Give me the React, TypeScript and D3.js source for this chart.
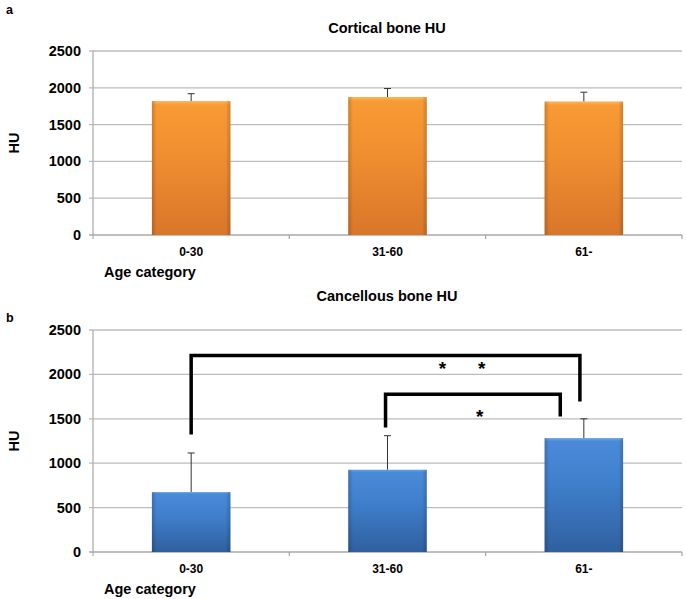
import React, { useRef, useEffect } from 'react';
import * as d3 from 'd3';

const categories = ['0-30', '31-60', '61-'];
const yTicks = [0, 500, 1000, 1500, 2000, 2500];

const corticalMeans = [1820, 1875, 1815];
const corticalErr = [100, 115, 125];

const cancellousMeans = [675, 927, 1283];
const cancellousErr = [440, 383, 217];

// significance brackets (x in category index units, y in HU)
const bracketX1 = [0, 0.99];
const bracketX2 = [1.98, 1.88];
const bracketTop = [2212, 1776];
const bracketLeftEnd = [1324, 1403];
const bracketRightEnd = [1694, 1526];

const starX = [1.28, 1.48, 1.47];
const starY = [2090, 2090, 1551];

const FONT = '"Liberation Sans", Arial, sans-serif';

interface PanelOpts {
  letter: string;
  title: string;
  means: number[];
  errs: number[];
  top: number;      // y of 2500
  bottom: number;   // y of 0
  titleY: number;
  letterY: number;
  grad: string;
  withBrackets: boolean;
}

const App: React.FC = () => {
  const ref = useRef<SVGSVGElement | null>(null);

  useEffect(() => {
    if (!ref.current) return;
    const svg = d3.select(ref.current);
    svg.selectAll('*').remove();

    const defs = svg.append('defs');
    const mkGrad = (id: string, stops: [string, string][]) => {
      const g = defs.append('linearGradient').attr('id', id)
        .attr('x1', 0).attr('y1', 0).attr('x2', 0).attr('y2', 1);
      stops.forEach(([o, c]) => g.append('stop').attr('offset', o).attr('stop-color', c));
    };
    mkGrad('orange', [['0%', '#fdb55a'], ['3%', '#f89a35'], ['40%', '#f08f30'], ['100%', '#d9762a']]);
    mkGrad('blue', [['0%', '#6aa6ea'], ['3%', '#4a8ad8'], ['40%', '#3f7fcc'], ['100%', '#2f609f']]);
    const side = defs.append('linearGradient').attr('id', 'side')
      .attr('x1', 0).attr('y1', 0).attr('x2', 1).attr('y2', 0);
    side.append('stop').attr('offset', '0%').attr('stop-color', '#000').attr('stop-opacity', 0.18);
    side.append('stop').attr('offset', '6%').attr('stop-color', '#000').attr('stop-opacity', 0);
    side.append('stop').attr('offset', '94%').attr('stop-color', '#000').attr('stop-opacity', 0);
    side.append('stop').attr('offset', '100%').attr('stop-color', '#000').attr('stop-opacity', 0.18);

    const left = 93;
    const right = 682;

    const x = d3.scaleBand<string>().domain(categories).range([left, right]).paddingInner(0).paddingOuter(0);
    const bw = x.bandwidth() / 2.5;
    const xc = d3.scaleLinear().domain([0, 1]).range([left + x.bandwidth() / 2, left + x.bandwidth() * 1.5]);

    const drawPanel = (o: PanelOpts) => {
      const y = d3.scaleLinear().domain([0, 2500]).range([o.bottom, o.top]);
      const g = svg.append('g');

      g.append('text').attr('x', 6).attr('y', o.letterY).text(o.letter)
        .attr('font-family', FONT).attr('font-weight', 'bold').attr('font-size', 12.5);
      g.append('text').attr('x', 387).attr('y', o.titleY).attr('text-anchor', 'middle').text(o.title)
        .attr('font-family', FONT).attr('font-weight', 'bold').attr('font-size', 14.5);

      // gridlines
      g.selectAll('.grid').data(yTicks.filter(t => t > 0)).enter().append('line')
        .attr('x1', left - 4).attr('x2', right).attr('y1', d => y(d)).attr('y2', d => y(d))
        .attr('stroke', '#bcbcbc').attr('stroke-width', 1.3);
      g.selectAll('.ylab').data(yTicks).enter().append('text')
        .attr('x', left - 12).attr('y', d => y(d) + 5).attr('text-anchor', 'end').text(d => d)
        .attr('font-family', FONT).attr('font-weight', 'bold').attr('font-size', 14.5);

      // axes
      g.append('line').attr('x1', left).attr('x2', left).attr('y1', o.top).attr('y2', o.bottom + 4)
        .attr('stroke', '#b0b0b0').attr('stroke-width', 1.3);
      g.append('line').attr('x1', left - 4).attr('x2', right).attr('y1', o.bottom).attr('y2', o.bottom)
        .attr('stroke', '#a8a8a8').attr('stroke-width', 1.3);
      g.selectAll('.xt').data(categories).enter().append('line')
        .attr('x1', d => (x(d) as number) + x.bandwidth()).attr('x2', d => (x(d) as number) + x.bandwidth())
        .attr('y1', o.bottom).attr('y2', o.bottom + 4).attr('stroke', '#a8a8a8').attr('stroke-width', 1.3);

      // bars
      const cx = (c: string) => (x(c) as number) + x.bandwidth() / 2;
      const bars = g.selectAll('.bar').data(categories).enter();
      bars.append('rect')
        .attr('x', d => cx(d) - bw / 2).attr('width', bw)
        .attr('y', (d, i) => y(o.means[i])).attr('height', (d, i) => o.bottom - y(o.means[i]))
        .attr('fill', `url(#${o.grad})`);
      bars.append('rect')
        .attr('x', d => cx(d) - bw / 2).attr('width', bw)
        .attr('y', (d, i) => y(o.means[i])).attr('height', (d, i) => o.bottom - y(o.means[i]))
        .attr('fill', 'url(#side)');

      // error bars (upper only)
      categories.forEach((c, i) => {
        const x0 = cx(c);
        const y1 = y(o.means[i]);
        const y2 = y(o.means[i] + o.errs[i]);
        g.append('line').attr('x1', x0).attr('x2', x0).attr('y1', y1).attr('y2', y2)
          .attr('stroke', '#333').attr('stroke-width', 1);
        g.append('line').attr('x1', x0 - 3.5).attr('x2', x0 + 3.5).attr('y1', y2).attr('y2', y2)
          .attr('stroke', '#333').attr('stroke-width', 1);
      });

      g.selectAll('.xlab').data(categories).enter().append('text')
        .attr('x', d => cx(d)).attr('y', o.bottom + 21).attr('text-anchor', 'middle').text(d => d)
        .attr('font-family', FONT).attr('font-weight', 'bold').attr('font-size', 12);

      g.append('text').attr('x', 104).attr('y', o.bottom + 42).text('Age category')
        .attr('font-family', FONT).attr('font-weight', 'bold').attr('font-size', 14.5);

      g.append('text')
        .attr('transform', `translate(19, ${(o.top + o.bottom) / 2}) rotate(-90)`)
        .attr('text-anchor', 'middle').text('HU')
        .attr('font-family', FONT).attr('font-weight', 'bold').attr('font-size', 14.5);

      if (o.withBrackets) {
        bracketX1.forEach((bx, i) => {
          const path = d3.path();
          path.moveTo(xc(bx), y(bracketLeftEnd[i]));
          path.lineTo(xc(bx), y(bracketTop[i]));
          path.lineTo(xc(bracketX2[i]), y(bracketTop[i]));
          path.lineTo(xc(bracketX2[i]), y(bracketRightEnd[i]));
          g.append('path').attr('d', path.toString()).attr('fill', 'none')
            .attr('stroke', '#000').attr('stroke-width', 3.5).attr('stroke-linejoin', 'miter');
        });
        starX.forEach((sx, i) => {
          g.append('text').attr('x', xc(sx)).attr('y', y(starY[i]) + 9).attr('text-anchor', 'middle')
            .text('*').attr('font-family', FONT).attr('font-weight', 'bold').attr('font-size', 19);
        });
      }
    };

    drawPanel({
      letter: 'a', title: 'Cortical bone HU', means: corticalMeans, errs: corticalErr,
      top: 51, bottom: 235, titleY: 33, letterY: 14, grad: 'orange', withBrackets: false,
    });
    drawPanel({
      letter: 'b', title: 'Cancellous bone HU', means: cancellousMeans, errs: cancellousErr,
      top: 330, bottom: 552, titleY: 301, letterY: 322, grad: 'blue', withBrackets: true,
    });
  }, []);

  return (
    <svg ref={ref} width={686} height={599}
      style={{ position: 'absolute', left: 0, top: 0, background: '#fff' }} />
  );
};

export default App;
